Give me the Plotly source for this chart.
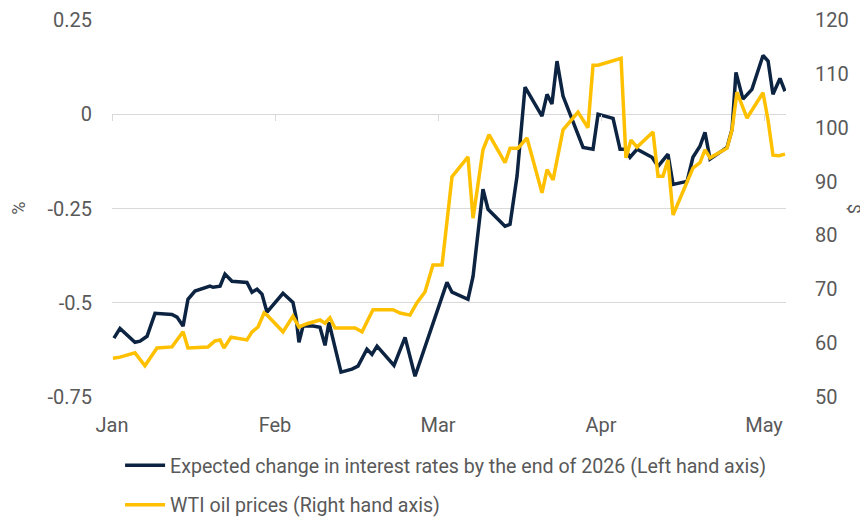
"""Expected rate change vs WTI oil price, dual-axis line chart."""

import plotly.graph_objects as go

# x positions are months since 1 January (0 = Jan, 1 = Feb, ...)
month_labels = ["Jan", "Feb", "Mar", "Apr", "May"]
month_ticks = [0, 1, 2, 3, 4]

rates_x = [
    0.012, 0.049, 0.141, 0.172, 0.215, 0.264, 0.368, 0.399, 0.436, 0.466,
    0.509, 0.601, 0.620, 0.663, 0.693, 0.736, 0.828, 0.859, 0.890, 0.920,
    0.951, 1.049, 1.110, 1.129, 1.147, 1.172, 1.233, 1.276, 1.307, 1.331,
    1.405, 1.472, 1.509, 1.564, 1.595, 1.626, 1.730, 1.798, 1.859, 1.939,
    1.982, 2.055, 2.086, 2.184, 2.215, 2.276, 2.307, 2.411, 2.442, 2.485,
    2.534, 2.638, 2.669, 2.699, 2.730, 2.767, 2.890, 2.951, 2.982, 3.074,
    3.117, 3.147, 3.178, 3.221, 3.313, 3.350, 3.411, 3.442, 3.528, 3.564,
    3.607, 3.638, 3.669, 3.773, 3.804, 3.828, 3.871, 3.926, 3.994, 4.025,
    4.055, 4.098, 4.129,
]
rates = [
    -0.594, -0.568, -0.605, -0.602, -0.589, -0.528, -0.531, -0.538, -0.562, -0.491,
    -0.469, -0.456, -0.459, -0.456, -0.424, -0.443, -0.446, -0.472, -0.464, -0.477,
    -0.525, -0.475, -0.499, -0.538, -0.605, -0.562, -0.562, -0.565, -0.613, -0.552,
    -0.684, -0.676, -0.668, -0.623, -0.637, -0.615, -0.666, -0.592, -0.695, -0.592,
    -0.536, -0.446, -0.472, -0.491, -0.430, -0.199, -0.252, -0.297, -0.292, -0.164,
    0.072, -0.005, 0.053, 0.027, 0.141, 0.048, -0.088, -0.093, 0.000, -0.011,
    -0.093, -0.093, -0.114, -0.093, -0.114, -0.138, -0.106, -0.186, -0.178, -0.114,
    -0.085, -0.048, -0.119, -0.088, -0.040, 0.111, 0.040, 0.066, 0.156, 0.141,
    0.053, 0.095, 0.061,
]

oil_x = [
    0.006, 0.049, 0.141, 0.202, 0.276, 0.368, 0.436, 0.466, 0.589, 0.632,
    0.663, 0.687, 0.730, 0.828, 0.859, 0.896, 0.933, 0.951, 1.049, 1.110,
    1.147, 1.196, 1.276, 1.307, 1.337, 1.368, 1.491, 1.534, 1.601, 1.724,
    1.767, 1.828, 1.871, 1.920, 1.969, 2.025, 2.086, 2.184, 2.215, 2.276,
    2.313, 2.411, 2.442, 2.491, 2.546, 2.638, 2.669, 2.706, 2.767, 2.859,
    2.920, 2.951, 2.982, 3.123, 3.153, 3.184, 3.221, 3.319, 3.350, 3.380,
    3.411, 3.442, 3.564, 3.607, 3.638, 3.669, 3.773, 3.804, 3.834, 3.896,
    3.994, 4.025, 4.055, 4.092, 4.129,
]
oil = [
    57.2, 57.4, 58.2, 55.8, 59.1, 59.3, 62.1, 59.1, 59.3, 60.4,
    60.6, 59.1, 61.1, 60.6, 62.1, 63.0, 65.6, 65.2, 62.1, 65.0,
    63.0, 63.6, 64.3, 63.7, 64.7, 62.8, 62.8, 62.1, 66.2, 66.2,
    65.6, 65.2, 67.5, 69.5, 74.5, 74.5, 90.9, 94.6, 83.2, 95.9,
    98.7, 93.5, 96.2, 96.2, 98.1, 87.9, 92.2, 90.3, 99.6, 102.9,
    100.0, 111.6, 111.6, 112.9, 94.4, 97.7, 96.4, 99.2, 91.0, 91.0,
    94.0, 83.8, 92.5, 93.5, 95.9, 94.4, 96.2, 99.6, 106.6, 101.8,
    106.5, 101.4, 94.9, 94.8, 95.1,
]

NAVY = "#0c2442"
GOLD = "#ffc000"
GREY = "#595959"
GRID = "#d9d9d9"
FONT = "Roboto"

fig = go.Figure()
fig.add_trace(
    go.Scatter(
        x=rates_x, y=rates, mode="lines",
        name="Expected change in interest rates by the end of 2026 (Left hand axis)",
        line=dict(color=NAVY, width=3.5), legendgroup="a",
    )
)
fig.add_trace(
    go.Scatter(
        x=oil_x, y=oil, mode="lines", yaxis="y2",
        name="WTI oil prices (Right hand axis)",
        line=dict(color=GOLD, width=3.5), legendgroup="b",
    )
)
# invisible helper trace so the tick-only axis at the zero line is drawn
fig.add_trace(
    go.Scatter(x=[0], y=[0], xaxis="x2", mode="lines", showlegend=False,
               hoverinfo="skip", line=dict(color="rgba(0,0,0,0)"))
)

x_range = [0, 4.135]
# the page adds an 8px body margin, so the figure margins are trimmed to match
fig.update_layout(
    width=868, height=517,
    margin=dict(l=104, r=90, t=12, b=128, autoexpand=False),
    paper_bgcolor="white", plot_bgcolor="white",
    font=dict(family=FONT, size=20, color=GREY),
    showlegend=True,
    legend=dict(
        x=0.012, y=-0.130, xanchor="left", yanchor="top",
        font=dict(size=19.6, color=GREY), tracegroupgap=11,
        itemwidth=40, bgcolor="rgba(0,0,0,0)",
    ),
    xaxis=dict(
        range=x_range, tickvals=month_ticks, ticktext=month_labels,
        showgrid=False, zeroline=False, showline=False,
        ticks="", ticklabelstandoff=14, automargin=False,
    ),
    xaxis2=dict(
        range=x_range, matches="x", overlaying="x", anchor="free",
        position=0.75, tickvals=month_ticks,
        showticklabels=False, ticks="outside", ticklen=6, tickcolor=GRID,
        showgrid=False, zeroline=False, showline=False,
    ),
    yaxis=dict(
        range=[-0.75, 0.25], tickvals=[-0.75, -0.5, -0.25, 0, 0.25],
        ticktext=["-0.75", "-0.5", "-0.25", "0", "0.25"],
        showgrid=True, gridcolor=GRID, gridwidth=1,
        zeroline=False, showline=False, ticklabelstandoff=19, automargin=False,
    ),
    yaxis2=dict(
        range=[50, 120], dtick=10, overlaying="y", side="right",
        showgrid=False, zeroline=False, showline=False,
        ticklabelstandoff=28, automargin=False,
    ),
    annotations=[
        dict(text="%", xref="paper", yref="paper", x=-0.139, y=0.5,
             xanchor="center", showarrow=False, textangle=-90,
             font=dict(size=18, color=GREY)),
        dict(text="$", xref="paper", yref="paper", x=1.102, y=0.5,
             xanchor="center", showarrow=False, textangle=90,
             font=dict(size=18, color=GREY)),
    ],
)

fig.write_html("out.html")
